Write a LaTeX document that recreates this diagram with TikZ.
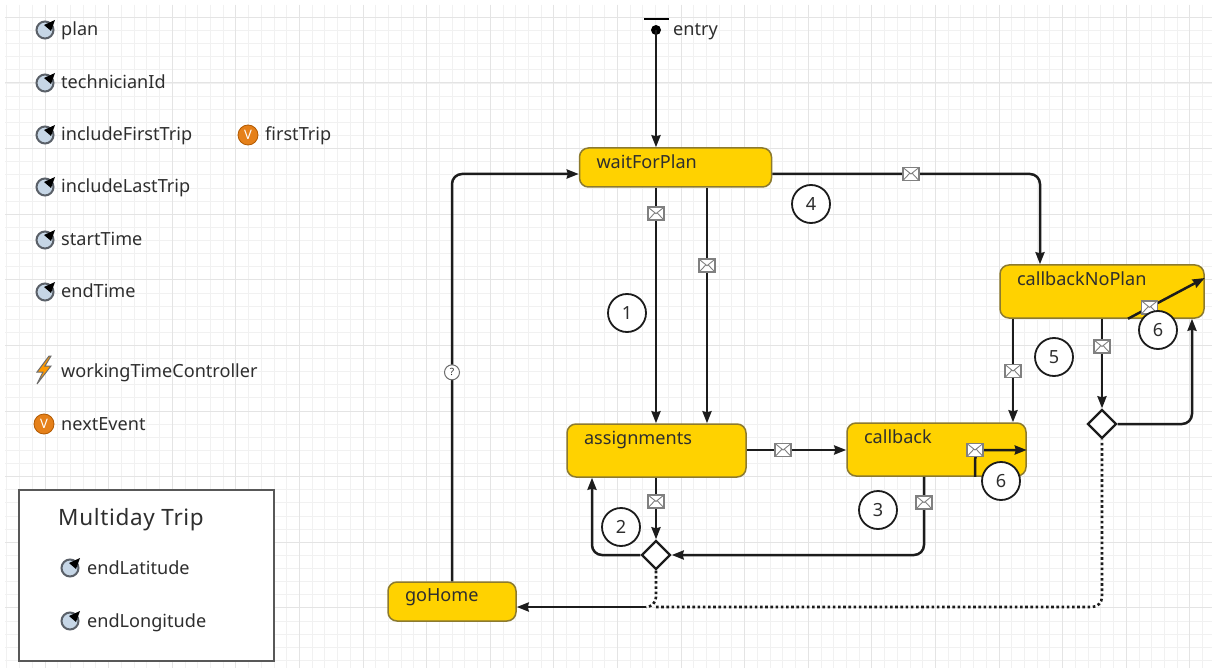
\documentclass[tikz,border=0pt]{standalone}
\usepackage{fontspec}
\setmainfont{Noto Sans}
\usetikzlibrary{shapes.geometric,arrows.meta,calc}
\definecolor{gold}{HTML}{FFD200}
\definecolor{goldedge}{HTML}{8C7A2E}
\definecolor{ink}{HTML}{2E2E2E}
\definecolor{linecol}{HTML}{1C1C1C}
\definecolor{gridminor}{HTML}{F1F1F1}
\definecolor{gridmajor}{HTML}{E4E4E4}
\definecolor{dial}{HTML}{C6D6E6}
\definecolor{dialedge}{HTML}{5A6068}
\newcommand{\stxt}[2]{\smash{\raisebox{#1pt}{#2}}}
\tikzset{
  x=1pt,y=-1pt,
  every node/.style={font=\fontsize{18.1}{20}\selectfont,text=ink},
  statebox/.style={draw=goldedge,line width=1.5pt,fill=gold,rounded corners=9pt,inner xsep=17pt,inner ysep=0pt,align=left},
  conn/.style={draw=linecol,line width=2.5pt,rounded corners=10pt,-{Stealth[length=12pt,width=9pt,inset=1pt]}},
  dotconn/.style={draw=linecol,line width=2.6pt,rounded corners=10pt,dash pattern=on 2.6pt off 2.6pt},
  env/.style={sharp corners,solid,draw=gray,fill=white,line width=1.4pt,minimum width=16pt,minimum height=13pt,inner sep=0pt,
    path picture={\draw[-,sharp corners,gray,line width=.9pt]
      (path picture bounding box.north west) -- (path picture bounding box.center) -- (path picture bounding box.north east)
      (path picture bounding box.south west) -- ($(path picture bounding box.center)+(-1,-1)$)
      (path picture bounding box.south east) -- ($(path picture bounding box.center)+(1,-1)$);}},
  gate/.style={diamond,sharp corners,draw=linecol,fill=white,line width=2.4pt,minimum width=29pt,minimum height=29pt,inner sep=0pt},
  num/.style={circle,draw=linecol,fill=white,line width=1.8pt,minimum size=38pt,inner sep=0pt},
  lab/.style={anchor=base west,inner sep=0pt},
  param/.pic={
    \draw[draw=dialedge,fill=dial,line width=2pt] (0,0) circle (8.5);
    \fill[black] (-1,-5) -- (10,-10) -- (6,1) -- cycle;
  },
  varicon/.style={circle,fill=orange!60!brown,draw=orange!70!black,line width=.8pt,minimum size=20pt,inner sep=0pt,text=white,font=\fontsize{13}{13}\bfseries\selectfont},
}
\begin{document}
\begin{tikzpicture}
\useasboundingbox (0,0) rectangle (1212,668);
\fill[white] (0,0) rectangle (1212,668);
% grid
\foreach \i in {-3,...,92}{
  \pgfmathsetmacro{\gx}{45+12.72*\i}
  \draw[gridminor,line width=.8pt] (\gx,5) -- (\gx,668);}
\foreach \i in {-5,...,46}{
  \pgfmathsetmacro{\gy}{83+13.12*\i}
  \draw[gridminor,line width=.8pt] (5,\gy) -- (1212,\gy);}
\foreach \i in {0,...,18}{
  \pgfmathsetmacro{\gx}{45+63.6*\i}
  \draw[gridmajor,line width=1pt] (\gx,5) -- (\gx,668);}
\foreach \i in {-1,...,9}{
  \pgfmathsetmacro{\gy}{83+65.6*\i}
  \draw[gridmajor,line width=1pt] (5,\gy) -- (1212,\gy);}

% x and y guides for connectors
\coordinate (xa) at (656,0);
\coordinate (xb) at (707,0);
\coordinate (xc) at (592,0);
\coordinate (xd) at (924,0);
\coordinate (xe) at (1013,0);
\coordinate (xf) at (1040,0);
\coordinate (xg) at (1102,0);
\coordinate (xh) at (1192,0);
\coordinate (xi) at (452,0);
\coordinate (xj) at (975,0);
\coordinate (xk) at (1128,0);
\coordinate (ya) at (0,174);
\coordinate (yb) at (0,450);
\coordinate (yc) at (0,278);
\coordinate (yd) at (0,607);
\coordinate (jn) at (646,607);

% states
\node[statebox,minimum height=39pt,text width=158pt] (wait) at (675.5,167.5) {\stxt{-1}{waitForPlan}};
\node[statebox,minimum height=53pt,text width=145pt] (assign) at (656.5,450.5) {\stxt{6.5}{assignments}};
\node[statebox,minimum height=53pt,text width=145pt] (callback) at (936.5,449.5) {\stxt{6.5}{callback}};
\node[statebox,minimum height=53pt,text width=170pt] (noplan) at (1102,291.5) {\stxt{6}{callbackNoPlan}};
\node[statebox,minimum height=39pt,text width=94pt] (gohome) at (452,601.5) {\stxt{0}{goHome}};

% gateways
\node[gate] (g1) at (656,555) {};
\node[gate] (g2) at (1102,424) {};

% entry
\fill[black] (656,30) circle (5);
\coordinate (entrydot) at (656,30);
\draw[black,line width=2pt] (644,19) -- (669,19);
\node[lab] (entrylab) at (673,36) {entry};
\draw[conn] (entrydot) -- (entrydot |- wait.north);

% connectors
\draw[conn] (wait.south -| xa) -- node[env,pos=.11]{} (assign.north -| xa);
\draw[conn] (wait.south -| xb) -- node[env,pos=.331]{} (assign.north -| xb);
\draw[conn] (wait.east |- ya) -- node[env,pos=.518]{} (xf |- ya) -- (noplan.north -| xf);
\draw[conn] (gohome.north -| xi) -- node[pos=.513,circle,sharp corners,draw=ink!70,fill=white,line width=1pt,minimum size=15pt,inner sep=0pt,font=\fontsize{10}{10}\selectfont]{?} (xi |- ya) -- (wait.west |- ya);
\draw[conn] (assign.east |- yb) -- node[env,pos=.365]{} (callback.west |- yb);
\draw[conn] (assign.south -| xa) -- node[env,pos=.385]{} (g1.north);
\draw[conn] (g1.west) -- (xc |- g1) -- (assign.south -| xc);
\draw[conn] (callback.south -| xd) -- node[env,pos=.33]{} (xd |- g1) -- (g1.east);
\draw[dotconn] (g1.south) -- (xa |- yd) -- (jn);
\draw[conn] (jn) -- (gohome.east |- yd);
\draw[dotconn] (xa |- yd) -- (xg |- yd) -- (g2.south);
\draw[conn] (noplan.south -| xg) -- node[env,pos=.31]{} (g2.north);
\draw[conn] (g2.east) -- (xh |- g2) -- (noplan.south -| xh);
\draw[conn] (noplan.south -| xe) -- node[env,pos=.505]{} (callback.north -| xe);
\draw[conn] (noplan.south -| xk) -- node[env,pos=.28]{} (noplan.east |- yc);
\draw[conn] (callback.south -| xj) -- (xj |- yb) -- node[env,pos=0]{} (callback.east |- yb);

% numbers
\node[num] (n1) at (627,313) {1};
\node[num] (n2) at (621,527) {2};
\node[num] (n3) at (878,510) {3};
\node[num] (n4) at (811,204) {4};
\node[num] (n5) at (1054,357) {5};
\node[num] (n6a) at (1158,330) {6};
\node[num] (n6b) at (1001,481) {6};

% left column
\foreach \yy/\txt/\nm in {30/plan/pa,83/technicianId/pb,135/includeFirstTrip/pc,187/includeLastTrip/pd,240/startTime/pe,292/endTime/pf}{
  \pic at (45,\yy) {param};
  \node[lab] (\nm) at (61,\yy+6) {\txt};
}
\node[varicon] (v1) at (248,135) {V};
\node[lab] (firsttrip) at (265,141) {firstTrip};
\fill[orange!80!yellow,draw=ink!70,line width=1pt] (49,356) -- (37,372) -- (43,372) -- (37,384) -- (51,366) -- (45,366) -- (51,356) -- cycle;
\node[lab] (wtc) at (61,377) {workingTimeController};
\node[varicon] (v2) at (44,424) {V};
\node[lab] (nextevent) at (61,430) {nextEvent};

% multiday box
\node[draw=ink!80,fill=white,line width=1.5pt,minimum width=255pt,minimum height=171pt,inner sep=0pt] (box) at (146.5,575.5) {};
\node[lab,font=\fontsize{22.5}{24}\selectfont\addfontfeatures{LetterSpace=3}] (boxtitle) at (58,525) {Multiday Trip};
\pic at (70,568) {param};
\node[lab] (endlat) at (87,574) {endLatitude};
\pic at (70,621) {param};
\node[lab] (endlon) at (87,627) {endLongitude};
\end{tikzpicture}
\end{document}
